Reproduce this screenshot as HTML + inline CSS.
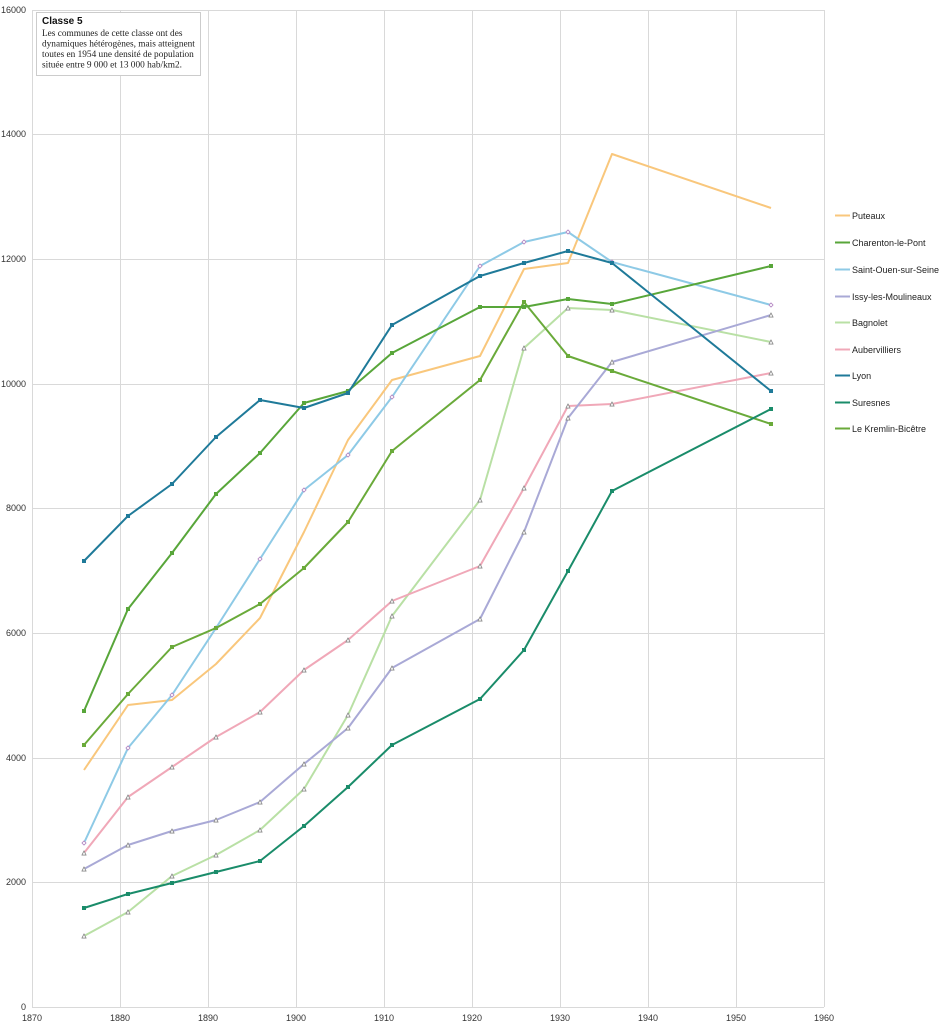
<!DOCTYPE html>
<html><head><meta charset="utf-8"><style>
html,body{margin:0;padding:0;background:#fff}
svg{display:block;font-family:"Liberation Sans",sans-serif}
</style></head><body>
<svg width="942" height="1024" viewBox="0 0 942 1024" xmlns="http://www.w3.org/2000/svg">
<defs>
<marker id="sq" viewBox="0 0 4 4" refX="2" refY="2" markerWidth="4" markerHeight="4" markerUnits="userSpaceOnUse"><rect width="4" height="4" fill="context-stroke"/></marker>
<marker id="tr" viewBox="0 0 6 6" refX="3" refY="3" markerWidth="5" markerHeight="5" markerUnits="userSpaceOnUse"><polygon points="3,0.5 5.5,5.5 0.5,5.5" fill="#fff" stroke="#888" stroke-width="1"/></marker>
<marker id="di" viewBox="0 0 6 6" refX="3" refY="3" markerWidth="5" markerHeight="5" markerUnits="userSpaceOnUse"><polygon points="3,0.5 5.5,3 3,5.5 0.5,3" fill="#fff" stroke="#b080c0" stroke-width="1"/></marker>
</defs>
<g stroke="#d9d9d9" stroke-width="1">
<line x1="32" y1="1007.5" x2="824" y2="1007.5"/>
<line x1="32" y1="882.5" x2="824" y2="882.5"/>
<line x1="32" y1="758.5" x2="824" y2="758.5"/>
<line x1="32" y1="633.5" x2="824" y2="633.5"/>
<line x1="32" y1="508.5" x2="824" y2="508.5"/>
<line x1="32" y1="384.5" x2="824" y2="384.5"/>
<line x1="32" y1="259.5" x2="824" y2="259.5"/>
<line x1="32" y1="134.5" x2="824" y2="134.5"/>
<line x1="32" y1="10.5" x2="824" y2="10.5"/>
<line x1="32.5" y1="10" x2="32.5" y2="1007"/>
<line x1="120.5" y1="10" x2="120.5" y2="1007"/>
<line x1="208.5" y1="10" x2="208.5" y2="1007"/>
<line x1="296.5" y1="10" x2="296.5" y2="1007"/>
<line x1="384.5" y1="10" x2="384.5" y2="1007"/>
<line x1="472.5" y1="10" x2="472.5" y2="1007"/>
<line x1="560.5" y1="10" x2="560.5" y2="1007"/>
<line x1="648.5" y1="10" x2="648.5" y2="1007"/>
<line x1="736.5" y1="10" x2="736.5" y2="1007"/>
<line x1="824.5" y1="10" x2="824.5" y2="1007"/>
</g>
<g font-size="9" fill="#333" text-anchor="end">
<text x="26" y="1010">0</text><text x="26" y="885">2000</text><text x="26" y="761">4000</text><text x="26" y="636">6000</text><text x="26" y="511">8000</text><text x="26" y="387">10000</text><text x="26" y="262">12000</text><text x="26" y="137">14000</text><text x="26" y="13">16000</text>
</g>
<g font-size="9" fill="#333" text-anchor="middle">
<text x="32" y="1021">1870</text><text x="120" y="1021">1880</text><text x="208" y="1021">1890</text><text x="296" y="1021">1900</text><text x="384" y="1021">1910</text><text x="472" y="1021">1920</text><text x="560" y="1021">1930</text><text x="648" y="1021">1940</text><text x="736" y="1021">1950</text><text x="824" y="1021">1960</text>
</g>
<rect x="36.5" y="12.5" width="164" height="63" fill="#fff" stroke="#ccc"/>
<text x="42" y="24" font-size="10" font-weight="bold" fill="#111">Classe  5</text>
<g font-family="Liberation Serif,serif" font-size="9.3" fill="#222">
<text x="42" y="36">Les communes de cette classe ont des</text>
<text x="42" y="46.5">dynamiques hétérogènes, mais atteignent</text>
<text x="42" y="57">toutes en 1954 une densité de population</text>
<text x="42" y="67.5">située entre 9 000 et 13 000 hab/km2.</text>
</g>
<g fill="none" stroke-width="2" stroke-linejoin="round">
<polyline stroke="#f9c77c" points="84,770 128,705 172,700 216,664 260,618 304,532 348,440 392,380 480,356 524,269 568,263 612,154 771,208"/>
<polyline stroke="#b9e0a5" marker-start="url(#tr)" marker-mid="url(#tr)" marker-end="url(#tr)" points="84,936 128,912 172,876 216,855 260,830 304,789 348,715 392,616 480,500 524,348 568,308 612,310 771,342"/>
<polyline stroke="#f0a8b8" marker-start="url(#tr)" marker-mid="url(#tr)" marker-end="url(#tr)" points="84,853 128,797 172,767 216,737 260,712 304,670 348,640 392,601 480,566 524,488 568,406 612,404 771,373"/>
<polyline stroke="#a9a9d6" marker-start="url(#tr)" marker-mid="url(#tr)" marker-end="url(#tr)" points="84,869 128,845 172,831 216,820 260,802 304,764 348,728 392,668 480,619 524,532 568,418 612,362 771,315"/>
<polyline stroke="#8ecae6" marker-start="url(#di)" marker-mid="url(#di)" marker-end="url(#di)" points="84,843 128,748 172,695 216,628 260,559 304,490 348,455 392,397 480,266 524,242 568,232 612,262 771,305"/>
<polyline stroke="#6aaa3a" marker-start="url(#sq)" marker-mid="url(#sq)" marker-end="url(#sq)" points="84,745 128,694 172,647 216,628 260,604 304,568 348,522 392,451 480,380 524,302 568,356 612,371 771,424"/>
<polyline stroke="#58a63a" marker-start="url(#sq)" marker-mid="url(#sq)" marker-end="url(#sq)" points="84,711 128,609 172,553 216,494 260,453 304,403 348,391 392,353 480,307 524,307 568,299 612,304 771,266"/>
<polyline stroke="#1f7a99" marker-start="url(#sq)" marker-mid="url(#sq)" marker-end="url(#sq)" points="84,561 128,516 172,484 216,437 260,400 304,408 348,393 392,325 480,276 524,263 568,251 612,263 771,391"/>
<polyline stroke="#1a8c6a" marker-start="url(#sq)" marker-mid="url(#sq)" marker-end="url(#sq)" points="84,908 128,894 172,883 216,872 260,861 304,826 348,787 392,745 480,699 524,650 568,571 612,491 771,409"/>
</g>
<g font-size="9" fill="#222">
<line x1="835" y1="215.5" x2="850" y2="215.5" stroke="#f9c77c" stroke-width="2"/><text x="852" y="219">Puteaux</text>
<line x1="835" y1="242.5" x2="850" y2="242.5" stroke="#58a63a" stroke-width="2"/><text x="852" y="246">Charenton-le-Pont</text>
<line x1="835" y1="269.5" x2="850" y2="269.5" stroke="#8ecae6" stroke-width="2"/><text x="852" y="273">Saint-Ouen-sur-Seine</text>
<line x1="835" y1="296.5" x2="850" y2="296.5" stroke="#a9a9d6" stroke-width="2"/><text x="852" y="300">Issy-les-Moulineaux</text>
<line x1="835" y1="322.5" x2="850" y2="322.5" stroke="#b9e0a5" stroke-width="2"/><text x="852" y="326">Bagnolet</text>
<line x1="835" y1="349.5" x2="850" y2="349.5" stroke="#f0a8b8" stroke-width="2"/><text x="852" y="353">Aubervilliers</text>
<line x1="835" y1="375.5" x2="850" y2="375.5" stroke="#1f7a99" stroke-width="2"/><text x="852" y="379">Lyon</text>
<line x1="835" y1="402.5" x2="850" y2="402.5" stroke="#1a8c6a" stroke-width="2"/><text x="852" y="406">Suresnes</text>
<line x1="835" y1="428.5" x2="850" y2="428.5" stroke="#6aaa3a" stroke-width="2"/><text x="852" y="432">Le Kremlin-Bicêtre</text>
</g>
</svg>
</body></html>
